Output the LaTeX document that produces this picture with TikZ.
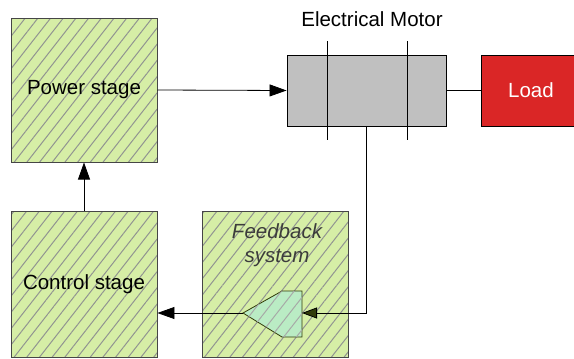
\documentclass[tikz,border=0pt]{standalone}
\usepackage{fontspec}
\setmainfont{Liberation Sans}
\usetikzlibrary{patterns.meta,arrows.meta}
\definecolor{hatchbg}{RGB}{214,238,166}
\definecolor{hatchln}{RGB}{145,148,145}
\definecolor{motorgray}{RGB}{192,192,192}
\definecolor{loadred}{RGB}{218,38,38}
\definecolor{fbfill}{RGB}{186,236,196}
\definecolor{olive}{RGB}{50,60,10}
\tikzset{
  hatched/.style={draw={rgb,255:red,70;green,70;blue,70}, line width=0.9pt,
    preaction={fill=hatchbg},
    pattern={Lines[angle=52,distance=10pt,line width=1pt]}, pattern color=hatchln},
  stagebox/.style={hatched, minimum width=146pt, minimum height=144pt, inner sep=0pt,
    font=\fontsize{20.5}{24}\selectfont},
  conn/.style={line width=0.8pt, -{Triangle[length=17pt,width=12pt]}},
  lbl/.style={font=\fontsize{20.5}{24}\selectfont, inner sep=0pt},
}
\begin{document}
\begin{tikzpicture}[x=1pt,y=-1pt]
\useasboundingbox (0,0) rectangle (574,359);
\clip (0,0) rectangle (574,359);
% stage boxes
\node[stagebox] (power) at (84,90) {Power stage};
\node[stagebox, minimum height=146pt] (control) at (84,284) {Control stage};
\node[stagebox, minimum height=146pt] (feedback) at (275.5,284) {};
\node[lbl, font=\fontsize{20.5}{24}\selectfont\itshape, text={rgb,255:red,60;green,60;blue,60}, align=center] (fbtext) at (277,245) {Feedback\\system};
% motor
\node[draw, line width=0.9pt, fill=motorgray, minimum width=159pt, minimum height=71pt, inner sep=0pt] (motor) at (366.5,90.5) {};
\draw[line width=0.9pt] (327,41) -- (327,140);
\draw[line width=0.9pt] (407,41) -- (407,140);
\node[lbl] (mtitle) at (372,19) {Electrical Motor};
% load
\node[draw, line width=0.9pt, fill=loadred, text=white, minimum width=100pt, minimum height=71pt, inner sep=0pt, font=\fontsize{20.5}{24}\selectfont] (load) at (531,90.5) {Load};
% feedback comparator shape
\coordinate (fbtip) at (243,313);
\coordinate (fbin) at (302,313);
\filldraw[draw=olive, line width=0.8pt, fill=fbfill] (fbtip) -- (282,291) -- (302,291) -- (302,337) -- (282,337) -- cycle;
\path[pattern={Lines[angle=52,distance=10pt,line width=1pt]}, pattern color=hatchln!80] (fbtip) -- (282,291) -- (302,291) -- (302,337) -- (282,337) -- cycle;
% connectors
\draw[conn] (power.east) -- (motor.west);
\draw[line width=0.9pt] (motor.east) -- (load.west);
\draw[conn] (control.north) -- (power.south);
\draw[conn] (fbtip) -- (control.east |- fbtip);
\draw[line width=0.8pt, -{Triangle[length=15pt,width=11pt,fill=olive,color=black]}] (motor.south) |- (fbin);
\end{tikzpicture}
\end{document}
